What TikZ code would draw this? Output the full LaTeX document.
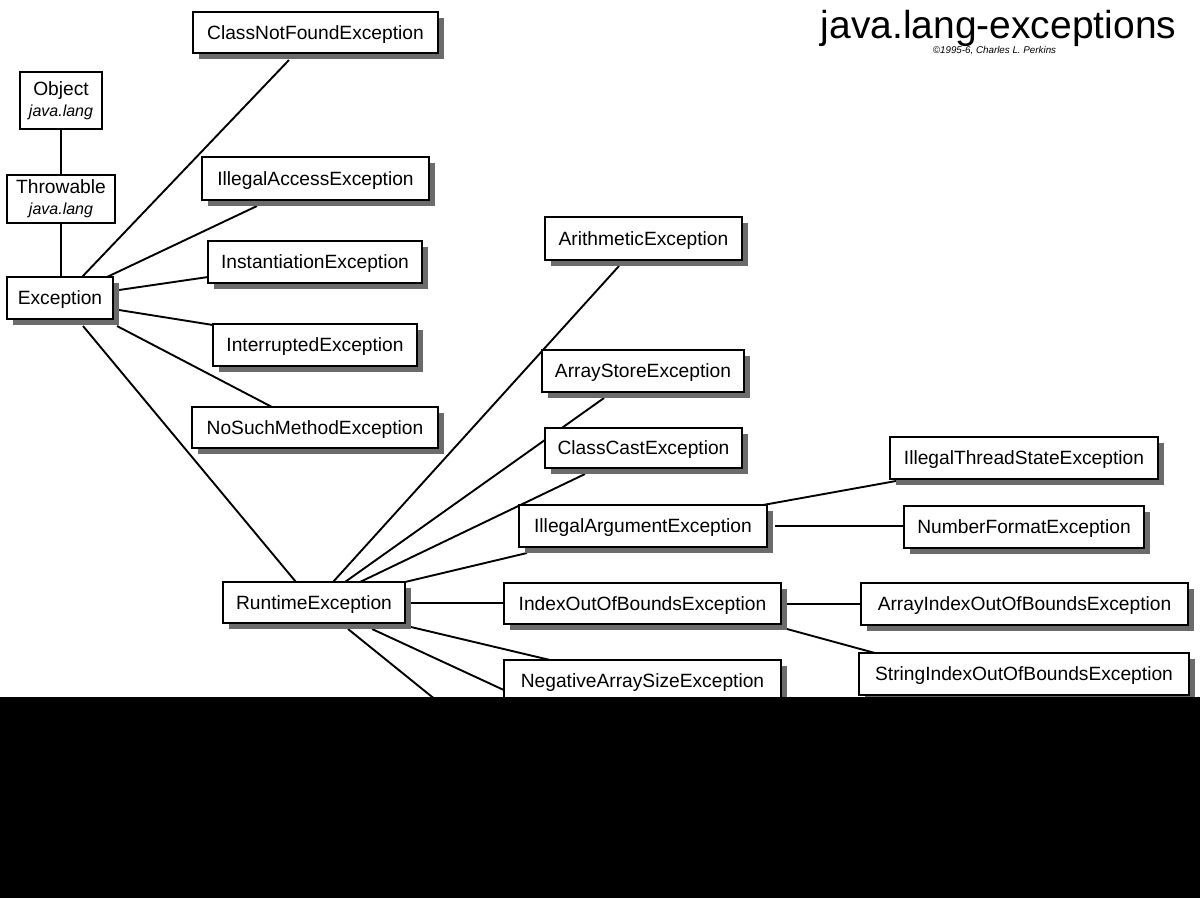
\documentclass[tikz,border=0pt]{standalone}
\usepackage{fontspec}
\setmainfont{Liberation Sans}
\usetikzlibrary{shadows,calc}
\tikzset{
  box/.style={draw=black, line width=1.2pt, fill=white, rectangle, inner sep=0pt,
    font=\fontsize{19.2}{22}\selectfont, text height=13.6pt, text depth=0pt,
    drop shadow={shadow xshift=6pt, shadow yshift=-6pt, fill=black!58, opacity=1}},
  plain/.style={draw=black, line width=1.2pt, fill=white, rectangle, inner sep=0pt, align=center,
    font=\fontsize{19.2}{21}\selectfont},
  link/.style={draw=black, line width=1.9pt},
}
\begin{document}
\begin{tikzpicture}[x=1pt,y=-1pt]
\useasboundingbox (0,0) rectangle (1200,898);
% upper boxes without shadow
\node[plain, minimum width=82pt, minimum height=57pt] (obj) at (61,100.5)
  {Object\\{\fontsize{16}{18}\selectfont\itshape java.lang}};
\node[plain, minimum width=108pt, minimum height=48pt] (thr) at (61,199)
  {Throwable\\{\fontsize{16}{18}\selectfont\itshape java.lang}};
% reference points for connectors (drawn under the boxes)
\coordinate (excTL) at (7,277);
\coordinate (rtTL) at (223,582);
\coordinate (iargTL) at (519,505);
\coordinate (ioobTL) at (504,583);
\coordinate (npe) at (560,716);
\coordinate (sec) at (452,713);
\draw[link] (obj.south) -- (thr.north);
\draw[link] (thr.south) -- (61,277);
\draw[link] ($(excTL)+(75,0)$) -- (289,60);
\draw[link] ($(excTL)+(100,0)$) -- (257,206);
\draw[link] ($(excTL)+(112,13)$) -- (208,277);
\draw[link] ($(excTL)+(112,33)$) -- (213,325);
\draw[link] ($(excTL)+(110,49)$) -- (272,407);
\draw[link] ($(excTL)+(76,49)$) -- (296,582);
\draw[link] ($(rtTL)+(110,0)$) -- (619,266);
\draw[link] ($(rtTL)+(122,0)$) -- (604,398);
\draw[link] ($(rtTL)+(137,0)$) -- (585,474);
\draw[link] ($(rtTL)+(182,0)$) -- (527,553);
\draw[link] ($(rtTL)+(188,21)$) -- (504,603);
\draw[link] ($(rtTL)+(188,45)$) -- (550,660);
\draw[link] ($(rtTL)+(149,47)$) -- (npe);
\draw[link] ($(rtTL)+(125,47)$) -- (sec);
\draw[link] ($(iargTL)+(244,0)$) -- (896,481);
\draw[link] ($(iargTL)+(256,21)$) -- (904,526);
\draw[link] ($(ioobTL)+(283,21)$) -- (861,604);
\draw[link] ($(ioobTL)+(283,46)$) -- (875,653);
% boxes
\node[box, minimum width=106pt, minimum height=42pt] (exc) at (60,298) {Exception};
\node[box, minimum width=245pt, minimum height=41pt] (cnf) at (315.5,32.5) {ClassNotFoundException};
\node[box, minimum width=227pt, minimum height=43pt] (iae) at (315.5,178.5) {IllegalAccessException};
\node[box, minimum width=214pt, minimum height=42pt] (ins) at (315,262) {InstantiationException};
\node[box, minimum width=204pt, minimum height=42pt] (int) at (315,345) {InterruptedException};
\node[box, minimum width=246pt, minimum height=41pt] (nsm) at (315,427.5) {NoSuchMethodException};
\node[box, minimum width=182pt, minimum height=41pt] (rt) at (314,602.5) {RuntimeException};
\node[box, minimum width=197pt, minimum height=43pt] (ari) at (643.5,238.5) {ArithmeticException};
\node[box, minimum width=202pt, minimum height=42pt] (ase) at (643,371) {ArrayStoreException};
\node[box, minimum width=197pt, minimum height=40pt] (cce) at (643.5,448) {ClassCastException};
\node[box, minimum width=248pt, minimum height=42pt] (iarg) at (643,526) {IllegalArgumentException};
\node[box, minimum width=277pt, minimum height=41pt] (ioob) at (642.5,603.5) {IndexOutOfBoundsException};
\node[box, minimum width=277pt, minimum height=42pt] (nase) at (642.5,681) {NegativeArraySizeException};
\node[box, minimum width=268pt, minimum height=42pt] (itse) at (1024,458) {IllegalThreadStateException};
\node[box, minimum width=240pt, minimum height=42pt] (nfe) at (1024,527) {NumberFormatException};
\node[box, minimum width=327pt, minimum height=42pt] (aioob) at (1024.5,604) {ArrayIndexOutOfBoundsException};
\node[box, minimum width=330pt, minimum height=42pt] (sioob) at (1024,674) {StringIndexOutOfBoundsException};
% title
\node[anchor=base, inner sep=0pt, font=\fontsize{39}{44}\selectfont] (title) at (998.5,38) {java.lang-exceptions};
\node[anchor=base, inner sep=0pt, font=\fontsize{9.8}{11}\selectfont\itshape] (copy) at (994.5,53) {©1995-6, Charles L. Perkins};
% black band
\fill[black] (0,697) rectangle (1200,898);
\end{tikzpicture}
\end{document}
